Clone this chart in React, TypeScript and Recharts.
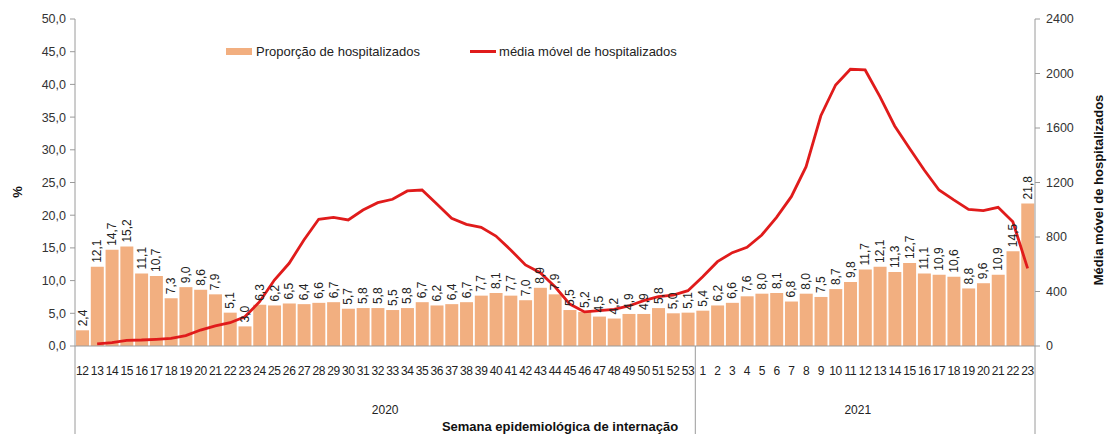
import React from "react";
import {
  ComposedChart,
  Bar,
  Line,
  XAxis,
  YAxis,
  LabelList,
} from "recharts";

const weeks2020 = [
  12, 13, 14, 15, 16, 17, 18, 19, 20, 21, 22, 23, 24, 25, 26, 27, 28, 29, 30, 31, 32,
  33, 34, 35, 36, 37, 38, 39, 40, 41, 42, 43, 44, 45, 46, 47, 48, 49, 50, 51, 52, 53,
];
const weeks2021 = [
  1, 2, 3, 4, 5, 6, 7, 8, 9, 10, 11, 12, 13, 14, 15, 16, 17, 18, 19, 20, 21, 22, 23,
];

const proporcao2020 = [
  2.4, 12.1, 14.7, 15.2, 11.1, 10.7, 7.3, 9.0, 8.6, 7.9, 5.1, 3.0, 6.3, 6.2, 6.5, 6.4,
  6.6, 6.7, 5.7, 5.8, 5.8, 5.5, 5.8, 6.7, 6.2, 6.4, 6.7, 7.7, 8.1, 7.7, 7.0, 8.9, 7.9,
  5.5, 5.2, 4.5, 4.2, 4.9, 4.9, 5.8, 5.0, 5.1,
];
const proporcao2021 = [
  5.4, 6.2, 6.6, 7.6, 8.0, 8.1, 6.8, 8.0, 7.5, 8.7, 9.8, 11.7, 12.1, 11.3, 12.7, 11.1,
  10.9, 10.6, 8.8, 9.6, 10.9, 14.5, 21.8,
];

const media2020 = [
  null, 15, 25, 42, 44, 49, 56, 76, 117, 147, 171, 215, 325, 484, 607, 778, 930, 944,
  925, 998, 1052, 1077, 1138, 1145, 1042, 937, 893, 871, 807, 705, 595, 538, 435, 308,
  250, 259, 269, 294, 333, 362, 374, 406,
];
const media2021 = [
  509, 619, 685, 724, 815, 944, 1096, 1316, 1690, 1916, 2031, 2026, 1830, 1615, 1451,
  1292, 1145, 1072, 1003, 993, 1018, 912, 570,
];

const leftTicks = [0, 5, 10, 15, 20, 25, 30, 35, 40, 45, 50];
const rightTicks = [0, 400, 800, 1200, 1600, 2000, 2400];

const data = [
  ...weeks2020.map((w, i) => ({
    key: `2020-${w}`,
    proporcao: proporcao2020[i],
    media: media2020[i],
  })),
  ...weeks2021.map((w, i) => ({
    key: `2021-${w}`,
    proporcao: proporcao2021[i],
    media: media2021[i],
  })),
];

const FONT = "'Liberation Sans', Arial, sans-serif";
const BAR_COLOR = "#F2AF80";
const LINE_COLOR = "#E01B1B";
const AXIS_COLOR = "#9a9a9a";

const W = 1108;
const H = 434;
const PLOT_LEFT = 75;
const PLOT_RIGHT = 1035;
const BAND = (PLOT_RIGHT - PLOT_LEFT) / data.length;

const comma = (v: number) => v.toFixed(1).replace(".", ",");

const WeekTick = (props: any) => {
  const { x, y, payload, index } = props;
  const [year, week] = String(payload.value).split("-");
  const mid2020 = Math.floor((weeks2020.length - 1) / 2);
  const mid2021 = weeks2020.length + Math.floor((weeks2021.length - 1) / 2);
  const isLast = index === data.length - 1;
  return (
    <g>
      <text
        x={x}
        y={y + 29}
        textAnchor="middle"
        fontSize={12}
        fontFamily={FONT}
        fill="#222"
        letterSpacing={-0.4}
      >
        {week}
      </text>
      {index === 0 && (
        <line x1={x - BAND / 2} x2={x - BAND / 2} y1={y} y2={H} stroke={AXIS_COLOR} />
      )}
      {index === weeks2020.length && (
        <line x1={x - BAND / 2} x2={x - BAND / 2} y1={y} y2={H} stroke={AXIS_COLOR} />
      )}
      {isLast && (
        <line x1={x + BAND / 2} x2={x + BAND / 2} y1={y} y2={H} stroke={AXIS_COLOR} />
      )}
      {(index === mid2020 || index === mid2021) && (
        <text
          x={index === mid2020 ? x + BAND / 2 : x - BAND * 0.5}
          y={y + 68}
          textAnchor="middle"
          fontSize={12}
          fontFamily={FONT}
          fill="#222"
        >
          {year}
        </text>
      )}
    </g>
  );
};

const BarValue = (props: any) => {
  const { x, y, width, value } = props;
  const cx = x + width / 2;
  const ty = y - 4;
  return (
    <text
      x={cx}
      y={ty}
      transform={`rotate(-90, ${cx}, ${ty})`}
      textAnchor="start"
      dominantBaseline="central"
      fontSize={12}
      fontFamily={FONT}
      fill="#222"
    >
      {comma(value)}
    </text>
  );
};

const titleStyle: React.CSSProperties = {
  position: "absolute",
  whiteSpace: "nowrap",
  fontFamily: FONT,
  fontWeight: "bold",
  fontSize: 13,
  color: "#111",
};

export default function App() {
  return (
    <div style={{ position: "relative", width: W, height: H, background: "#fff" }}>
      <style>{`body{margin:0}`}</style>
      <ComposedChart
        width={W}
        height={H}
        data={data}
        margin={{ top: 19, right: 33, bottom: 0, left: 35 }}
        barCategoryGap="7%"
      >
        <XAxis
          dataKey="key"
          interval={0}
          height={88}
          tickLine={false}
          tickSize={0}
          tickMargin={0}
          stroke={AXIS_COLOR}
          tick={<WeekTick />}
        />
        <YAxis
          yAxisId="left"
          width={40}
          domain={[0, 50]}
          ticks={leftTicks}
          interval={0}
          tickFormatter={comma}
          tickSize={5}
          tickMargin={4}
          stroke={AXIS_COLOR}
          tick={{ fontSize: 12.5, fill: "#333", fontFamily: FONT }}
        />
        <YAxis
          yAxisId="right"
          orientation="right"
          width={40}
          domain={[0, 2400]}
          ticks={rightTicks}
          interval={0}
          tickSize={5}
          tickMargin={6}
          stroke={AXIS_COLOR}
          tick={{ fontSize: 12.5, fill: "#333", fontFamily: FONT }}
        />
        <Bar
          yAxisId="left"
          dataKey="proporcao"
          fill={BAR_COLOR}
          isAnimationActive={false}
        >
          <LabelList dataKey="proporcao" content={<BarValue />} />
        </Bar>
        <Line
          yAxisId="right"
          dataKey="media"
          stroke={LINE_COLOR}
          strokeWidth={2.8}
          dot={false}
          type="linear"
          isAnimationActive={false}
        />
      </ComposedChart>
      <div
        style={{
          position: "absolute",
          top: 44,
          left: 226,
          display: "flex",
          alignItems: "center",
          fontFamily: FONT,
          fontSize: 13,
          color: "#222",
          whiteSpace: "nowrap",
        }}
      >
        <span
          style={{ display: "inline-block", width: 26, height: 7, background: BAR_COLOR, marginRight: 4 }}
        />
        <span>Proporção de hospitalizados</span>
        <span
          style={{
            display: "inline-block",
            width: 26,
            height: 3,
            background: LINE_COLOR,
            marginLeft: 50,
            marginRight: 3,
          }}
        />
        <span>média móvel de hospitalizados</span>
      </div>
      <div style={{ ...titleStyle, left: 17, top: 192, transform: "translate(-50%, -50%) rotate(-90deg)" }}>
        %
      </div>
      <div style={{ ...titleStyle, left: 1098, top: 190, transform: "translate(-50%, -50%) rotate(-90deg)" }}>
        Média móvel de hospitalizados
      </div>
      <div style={{ ...titleStyle, left: 560, top: 426, transform: "translate(-50%, -50%)" }}>
        Semana epidemiológica de internação
      </div>
    </div>
  );
}
